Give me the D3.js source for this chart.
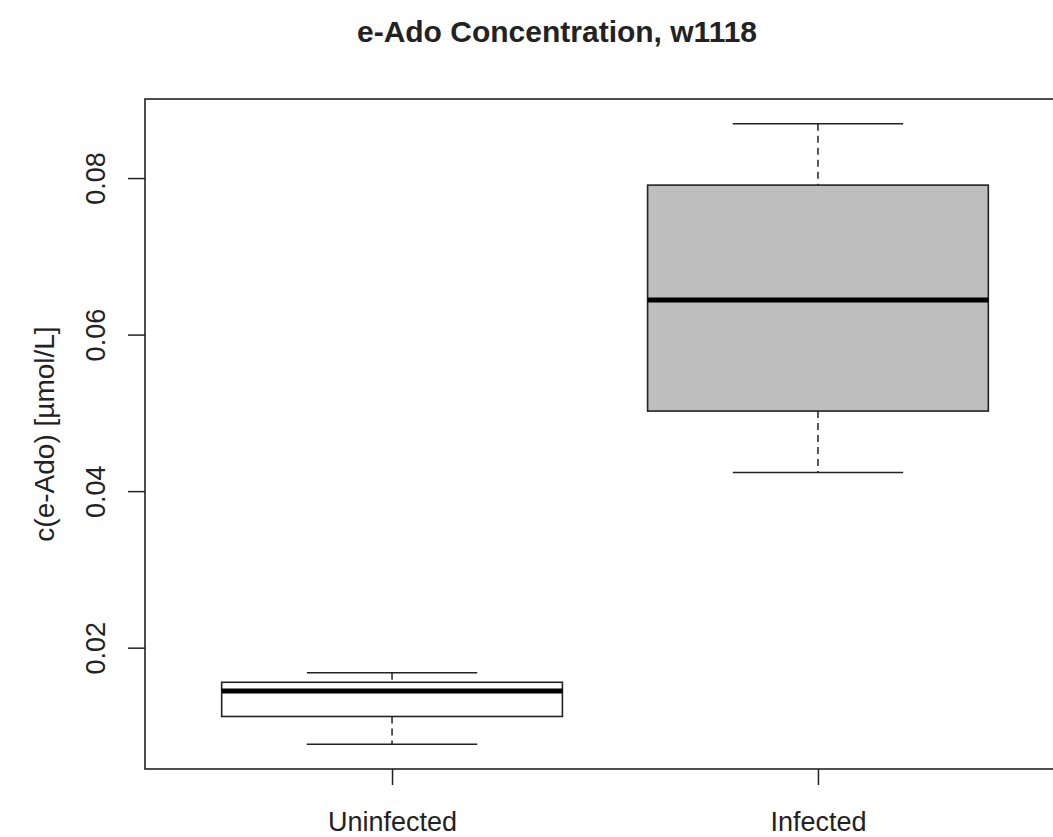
<!DOCTYPE html>
<html>
<head>
<meta charset="utf-8">
<script src="https://cdn.jsdelivr.net/npm/d3@7"></script>
<style>
  body { margin: 0; background: #fff; }
  text { font-family: "Liberation Sans", Arial, sans-serif; fill: #222; }
</style>
</head>
<body>
<svg id="chart"></svg>
<script>
const groups = ['Uninfected', 'Infected'];
const whiskerLow = [0.00767, 0.04239];
const q1 = [0.01121, 0.05023];
const median = [0.01445, 0.06443];
const q3 = [0.01558, 0.0791];
const whiskerHigh = [0.01680, 0.08695];
const fills = ['#ffffff', '#bebebe'];
const yTicks = [0.02, 0.04, 0.06, 0.08];

const width = 1053;
const height = 837;

const svg = d3
  .select('#chart')
  .attr('width', width)
  .attr('height', height);

// plot region (right edge sits just off the picture, like the source)
const plotLeft = 145, plotRight = 1065, plotTop = 99, plotBottom = 769;

const x = d3.scaleLinear().domain([0.42, groups.length + 0.58]).range([plotLeft, plotRight]);
const y = d3.scaleLinear().domain([0.0045, 0.0901]).range([plotBottom, plotTop]);

const boxHalf = x(1.4) - x(1);
const capHalf = boxHalf / 2;

const g = svg.append('g');

const boxes = g
  .selectAll('g.box')
  .data(groups)
  .join('g')
  .attr('class', 'box');

// dashed whiskers
boxes
  .append('line')
  .attr('x1', (d, i) => x(i + 1))
  .attr('x2', (d, i) => x(i + 1))
  .attr('y1', (d, i) => y(whiskerHigh[i]))
  .attr('y2', (d, i) => y(q3[i]))
  .attr('stroke', '#222')
  .attr('stroke-width', 1.5)
  .attr('stroke-dasharray', '7,5');

boxes
  .append('line')
  .attr('x1', (d, i) => x(i + 1))
  .attr('x2', (d, i) => x(i + 1))
  .attr('y1', (d, i) => y(q1[i]))
  .attr('y2', (d, i) => y(whiskerLow[i]))
  .attr('stroke', '#222')
  .attr('stroke-width', 1.5)
  .attr('stroke-dasharray', '7,5');

// caps
[whiskerLow, whiskerHigh].forEach((arr) => {
  boxes
    .append('line')
    .attr('x1', (d, i) => x(i + 1) - capHalf)
    .attr('x2', (d, i) => x(i + 1) + capHalf)
    .attr('y1', (d, i) => y(arr[i]))
    .attr('y2', (d, i) => y(arr[i]))
    .attr('stroke', '#222')
    .attr('stroke-width', 1.5);
});

// box
boxes
  .append('rect')
  .attr('x', (d, i) => x(i + 1) - boxHalf)
  .attr('width', boxHalf * 2)
  .attr('y', (d, i) => y(q3[i]))
  .attr('height', (d, i) => y(q1[i]) - y(q3[i]))
  .attr('fill', (d, i) => fills[i])
  .attr('stroke', '#222')
  .attr('stroke-width', 1.6);

// median
boxes
  .append('line')
  .attr('x1', (d, i) => x(i + 1) - boxHalf)
  .attr('x2', (d, i) => x(i + 1) + boxHalf)
  .attr('y1', (d, i) => y(median[i]))
  .attr('y2', (d, i) => y(median[i]))
  .attr('stroke', '#000')
  .attr('stroke-width', 5);

// frame
svg
  .append('rect')
  .attr('x', plotLeft)
  .attr('y', plotTop)
  .attr('width', plotRight - plotLeft)
  .attr('height', plotBottom - plotTop)
  .attr('fill', 'none')
  .attr('stroke', '#222')
  .attr('stroke-width', 1.6);

// y axis
const yAxis = svg
  .append('g')
  .attr('transform', `translate(${plotLeft},0)`)
  .call(d3.axisLeft(y).tickValues(yTicks).tickSize(17).tickFormat(d3.format('.2f')));
yAxis.select('.domain').remove();
yAxis.selectAll('line').attr('stroke', '#222').attr('stroke-width', 1.5);
yAxis
  .selectAll('text')
  .attr('x', null)
  .attr('dy', null)
  .attr('transform', 'translate(-40,0) rotate(-90)')
  .attr('text-anchor', 'middle')
  .style('font-size', '27px')
  .style('font-family', '"Liberation Sans", Arial, sans-serif')
  .attr('fill', '#222');

// x axis
const xAxis = svg
  .append('g')
  .attr('transform', `translate(0,${plotBottom})`)
  .call(d3.axisBottom(x).tickValues(groups.map((d, i) => i + 1)).tickSize(16).tickFormat((d) => groups[d - 1]));
xAxis.select('.domain').remove();
xAxis.selectAll('line').attr('stroke', '#222').attr('stroke-width', 1.5);
xAxis
  .selectAll('text')
  .attr('y', 62)
  .attr('dy', null)
  .style('font-size', '27px')
  .style('font-family', '"Liberation Sans", Arial, sans-serif')
  .attr('fill', '#222');

// title
svg
  .append('text')
  .attr('x', 557)
  .attr('y', 42)
  .attr('text-anchor', 'middle')
  .style('font-size', '30px')
  .style('font-weight', 'bold')
  .attr('fill', '#111')
  .text('e-Ado Concentration, w1118');

// y label
svg
  .append('text')
  .attr('transform', 'translate(54,434) rotate(-90)')
  .attr('text-anchor', 'middle')
  .style('font-size', '28px')
  .text('c(e-Ado) [µmol/L]');
</script>
</body>
</html>
